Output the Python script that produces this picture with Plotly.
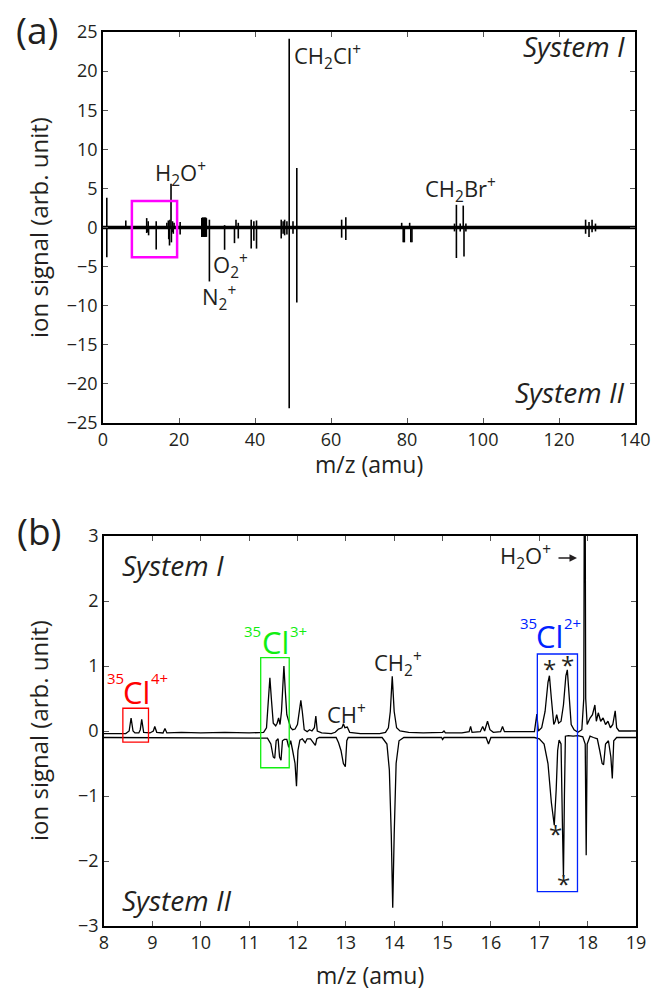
import plotly.graph_objects as go

FONT = "Open Sans"
TXT = "#231f20"

# ---------------- Panel (a): full mass spectra (stick representation) ----------------
a_mz_range = [0, 140]
a_sys1_mz = [1.0, 6.0, 11.5, 11.9, 14.0, 16.8, 17.2, 17.6, 17.9, 18.3, 18.7, 20.3,
             26.0, 26.2, 26.4, 26.6, 26.8, 27.0, 27.2, 28.0, 32.0, 35.0, 35.6,
             39.0, 39.7, 40.4, 46.9, 47.4, 47.8, 48.4, 49.0, 50.0, 51.0, 62.8, 63.9,
             78.6, 80.7, 92.5, 93.0, 94.0, 94.8, 95.5, 127.0, 127.9, 128.7, 129.6]
a_sys1_sig = [3.8, 0.9, 1.2, 0.8, 0.8, 0.6, 0.9, 1.0, 5.6, 0.8, 0.6, 0.7,
              1.2, 1.3, 1.2, 1.3, 1.2, 1.3, 1.2, 1.0, 0.3, 1.0, 0.6,
              1.0, 0.8, 0.9, 1.0, 0.8, 1.0, 0.8, 24.15, 0.8, 7.6, 1.0, 1.3,
              0.6, 0.6, 0.5, 2.9, 0.5, 2.8, 0.5, 1.0, 0.7, 1.0, 0.5]
a_sys2_mz = [1.0, 11.5, 11.65, 12.0, 14.0, 17.3, 17.5, 18.0, 18.3, 18.5, 20.3,
             26.0, 26.2, 26.4, 26.6, 26.8, 27.0, 27.2, 28.0, 32.0, 34.6, 35.6,
             39.0, 39.7, 40.4, 46.9, 47.4, 47.8, 48.4, 49.0, 50.0, 51.0, 62.8, 63.9,
             79.0, 79.3, 81.0, 81.3, 92.5, 93.0, 94.0, 95.0, 95.5, 127.0, 127.9, 128.7, 129.6]
a_sys2_sig = [3.8, 0.7, 0.6, 1.0, 2.8, 1.5, 2.3, 1.9, 0.6, 0.8, 0.9,
              1.2, 1.2, 1.2, 1.2, 1.2, 1.2, 1.2, 6.9, 2.85, 2.0, 1.4,
              2.7, 1.7, 2.7, 1.4, 0.8, 1.0, 0.9, 23.1, 0.8, 9.6, 1.3, 1.6,
              1.9, 1.9, 1.9, 1.9, 0.5, 3.9, 0.5, 3.7, 0.5, 0.8, 1.2, 0.6, 0.5]
a_zoom_box = [7.6, 19.5, -3.8, 3.4]   # x0, x1, y0, y1 (region shown in panel b)

# ---------------- Panel (b): zoomed spectra ----------------
b_sys1_mz = [8.0, 8.45, 8.52, 8.56, 8.60, 8.64, 8.72, 8.75, 8.78, 8.82, 8.95, 9.02, 9.05, 9.09,
             9.22, 9.26, 9.30, 9.6, 10.0, 10.5, 11.0, 11.3, 11.36, 11.40, 11.43, 11.46, 11.50,
             11.55, 11.58, 11.61, 11.64, 11.67, 11.70, 11.72, 11.75, 11.78, 11.82, 11.86, 11.90,
             11.95, 12.0, 12.04, 12.07, 12.10, 12.14, 12.20, 12.25, 12.30, 12.35, 12.38, 12.41,
             12.5, 12.7, 12.78, 12.85, 12.92, 12.95, 12.98, 13.03, 13.08, 13.3, 13.7, 13.82,
             13.88, 13.92, 13.96, 14.00, 14.05, 14.12, 14.3, 14.6, 15.0, 15.03, 15.06, 15.4,
             15.55, 15.58, 15.61, 15.78, 15.83, 15.87, 15.93, 15.98, 16.05, 16.2, 16.24, 16.28,
             16.6, 16.9, 16.95, 16.98, 17.05, 17.12, 17.18, 17.21, 17.25, 17.30, 17.33, 17.36,
             17.40, 17.45, 17.50, 17.55, 17.58, 17.62, 17.66, 17.72, 17.80, 17.88, 17.92, 17.93,
             17.95, 17.96, 17.99, 18.05, 18.10, 18.15, 18.18, 18.22, 18.27, 18.32, 18.37, 18.42,
             18.47, 18.52, 18.57, 18.60, 18.65, 19.0]
b_sys1_sig = [-0.04, -0.04, 0.0, 0.20, 0.0, -0.03, -0.03, 0.02, 0.18, -0.02, -0.03, 0.0, 0.07, -0.02,
              -0.03, 0.04, -0.03, -0.02, -0.03, -0.02, -0.03, -0.02, 0.05, 0.5, 0.82, 0.5, 0.12,
              0.08, 0.12, 0.2, 0.1, 0.3, 0.85, 1.0, 0.6, 0.25, 0.15, 0.05, 0.02,
              0.03, 0.1, 0.35, 0.47, 0.3, 0.02, -0.01, 0.02, 0.0, 0.05, 0.23, 0.0,
              -0.03, -0.04, -0.02, 0.03, 0.05, 0.11, 0.05, 0.06, -0.02, -0.04, -0.04, -0.02,
              0.05, 0.3, 0.84, 0.3, 0.05, 0.0, -0.02, -0.03, -0.02, 0.0, -0.03, -0.03,
              -0.01, 0.07, -0.02, -0.01, 0.07, 0.0, 0.15, 0.02, -0.02, -0.01, 0.07, -0.01,
              -0.01, -0.01, 0.26, 0.0, 0.05, 0.3, 0.75, 0.85, 0.5, 0.1, 0.15, 0.25,
              0.12, 0.15, 0.4, 0.85, 0.94, 0.5, 0.1, 0.02, -0.02, 0.02, 0.5, 3.3,
              3.3, 0.5, 0.1, 0.2, 0.25, 0.4, 0.15, 0.28, 0.15, 0.2, 0.1, 0.15,
              0.05, 0.1, 0.31, 0.05, 0.0, 0.0]
b_sys2_mz = [8.0, 11.3, 11.38, 11.45, 11.50, 11.53, 11.56, 11.60, 11.63, 11.66, 11.69, 11.73,
             11.78, 11.82, 11.86, 11.90, 11.95, 11.98, 12.01, 12.05, 12.10, 12.16, 12.20, 12.27,
             12.33, 12.37, 12.40, 12.45, 12.8, 12.85, 12.9, 12.95, 12.99, 13.02, 13.05, 13.75,
             13.85, 13.90, 13.94, 13.97, 14.00, 14.04, 14.10, 14.2, 14.98, 15.0, 15.03, 15.9,
             15.95, 16.0, 16.9, 17.0, 17.1, 17.18, 17.25, 17.31, 17.35, 17.38, 17.41, 17.45,
             17.48, 17.50, 17.52, 17.54, 17.6, 17.7, 17.8, 17.9, 17.95, 17.97, 17.99, 18.05,
             18.12, 18.2, 18.25, 18.3, 18.33, 18.37, 18.43, 18.48, 18.51, 18.54, 18.6, 19.0]
b_sys2_sig = [-0.1, -0.1, -0.11, -0.2, -0.4, -0.42, -0.15, -0.12, -0.4, -0.45, -0.15, -0.13,
              -0.13, -0.25, -0.15, -0.3, -0.5, -0.85, -0.3, -0.14, -0.12, -0.18, -0.12, -0.12,
              -0.18, -0.22, -0.12, -0.1, -0.1, -0.18, -0.3, -0.5, -0.55, -0.15, -0.1, -0.1,
              -0.2, -0.6, -1.6, -2.72, -1.6, -0.5, -0.15, -0.1, -0.1, -0.13, -0.1, -0.1,
              -0.2, -0.1, -0.1, -0.12, -0.2, -0.5, -1.1, -1.45, -0.9, -0.3, -0.14, -0.2,
              -1.5, -2.24, -1.0, -0.08, -0.07, -0.08, -0.07, -0.09, -0.2, -1.91, -0.2, -0.08,
              -0.1, -0.12, -0.3, -0.5, -0.52, -0.2, -0.15, -0.4, -0.73, -0.15, -0.1, -0.1]
b_boxes = {  # x0, x1, y0, y1, colour
    "Cl4": [8.39, 8.92, -0.17, 0.35, "#ff0000"],
    "Cl3": [11.24, 11.83, -0.565, 1.13, "#11ee11"],
    "Cl2": [16.96, 17.79, -2.47, 1.185, "#0022ff"],
}
b_star_mz = [17.21, 17.58, 17.33, 17.50]
b_star_sig = [0.96, 1.03, -1.58, -2.34]


def sticks(mz, sig, sign):
    xs, ys = [], []
    for m, s in zip(mz, sig):
        xs += [m, m, None]
        ys += [0, sign * s, None]
    return xs, ys


fig = go.Figure()
x1s, y1s = sticks(a_sys1_mz, a_sys1_sig, 1)
x2s, y2s = sticks(a_sys2_mz, a_sys2_sig, -1)
fig.add_trace(go.Scatter(x=a_mz_range, y=[0, 0], mode="lines",
                         line=dict(color="black", width=3.5), xaxis="x", yaxis="y"))
fig.add_trace(go.Scatter(x=x1s, y=y1s, mode="lines", line=dict(color="black", width=1.6),
                         xaxis="x", yaxis="y", name="System I"))
fig.add_trace(go.Scatter(x=x2s, y=y2s, mode="lines", line=dict(color="black", width=1.6),
                         xaxis="x", yaxis="y", name="System II"))

fig.add_trace(go.Scatter(x=b_sys1_mz, y=b_sys1_sig, mode="lines",
                         line=dict(color="black", width=1.3), xaxis="x2", yaxis="y2",
                         name="System I"))
fig.add_trace(go.Scatter(x=b_sys2_mz, y=b_sys2_sig, mode="lines",
                         line=dict(color="black", width=1.3), xaxis="x2", yaxis="y2",
                         name="System II"))

shapes = [dict(type="rect", xref="x", yref="y", x0=a_zoom_box[0], x1=a_zoom_box[1],
               y0=a_zoom_box[2], y1=a_zoom_box[3], line=dict(color="#ff00ff", width=2.5))]
for k, (x0, x1, y0, y1, c) in b_boxes.items():
    shapes.append(dict(type="rect", xref="x2", yref="y2", x0=x0, x1=x1, y0=y0, y1=y1,
                       line=dict(color=c, width=1.3)))

ann = []


def A(text, x, y, xref="x", yref="y", size=22, color=TXT, xanchor="center",
      yanchor="middle", italic=False, angle=0):
    ann.append(dict(text=text, x=x, y=y, xref=xref, yref=yref, showarrow=False,
                    xanchor=xanchor, yanchor=yanchor, textangle=angle,
                    font=dict(family=FONT, size=size, color=color,
                              style="italic" if italic else "normal")))


# panel (a) labels
A("CH<sub>2</sub>Cl<sup>+</sup>", 49.7, 21.9, xanchor="left")
A("H<sub>2</sub>O<sup>+</sup>", 20.5, 6.9)
A("O<sub>2</sub><sup>+</sup>", 33.5, -4.8)
A("N<sub>2</sub><sup>+</sup>", 30.5, -9.0)
A("CH<sub>2</sub>Br<sup>+</sup>", 94.2, 4.8)
A("System I", 627 / 656, 1 - 46 / 990, "paper", "paper", size=28, xanchor="right", italic=True)
A("System II", 627 / 656, 1 - 392 / 990, "paper", "paper", size=28, xanchor="right", italic=True)

# panel (b) labels
A("System I", 120 / 656, 1 - 565 / 990, "paper", "paper", size=28, xanchor="left", italic=True)
A("System II", 120 / 656, 1 - 900 / 990, "paper", "paper", size=28, xanchor="left", italic=True)
A("CH<sup>+</sup>", 13.02, 0.27, "x2", "y2")
A("CH<sub>2</sub><sup>+</sup>", 14.07, 1.04, "x2", "y2")
A("H<sub>2</sub>O<sup>+</sup>", 16.72, 2.69, "x2", "y2")
ann.append(dict(x=17.78, y=2.66, xref="x2", yref="y2", ax=-20, ay=0, text="",
                showarrow=True, arrowhead=2, arrowsize=1, arrowwidth=1.5, arrowcolor=TXT))
for m, s in zip(b_star_mz, b_star_sig):
    A("*", m, s, "x2", "y2", size=24)

# isotope labels: key, charge, x of "35", x of "Cl", x of charge, y of superscripts, y of "Cl"
iso = [("Cl4", "4+", 8.23, 8.67, 9.14, 0.815, 0.60),
       ("Cl3", "3+", 11.08, 11.536, 12.02, 1.546, 1.37),
       ("Cl2", "2+", 16.77, 17.21, 17.68, 1.654, 1.46)]
for key, ch, xs_, xc, xe, ysup, ycl in iso:
    col = b_boxes[key][4]
    A("35", xs_, ysup, "x2", "y2", size=15, color=col)
    A("Cl", xc, ycl, "x2", "y2", size=31, color=col)
    A(ch, xe, ysup, "x2", "y2", size=15, color=col)

# panel letters and axis titles
A("(a)", 37 / 656, 1 - 30 / 990, "paper", "paper", size=37)
A("(b)", 39 / 656, 1 - 530 / 990, "paper", "paper", size=37)
A("ion signal (arb. unit)", 38 / 656, 1 - 228 / 990, "paper", "paper", size=24, angle=-90)
A("ion signal (arb. unit)", 38 / 656, 1 - 731 / 990, "paper", "paper", size=24, angle=-90)
A("m/z (amu)", 369 / 656, 1 - 464 / 990, "paper", "paper", size=23)
A("m/z (amu)", 370 / 656, 1 - 975 / 990, "paper", "paper", size=23)

axis_common = dict(showline=True, linecolor="black", linewidth=1.5, mirror="ticks",
                   ticks="inside", ticklen=5, tickcolor="#555", tickwidth=1,
                   showgrid=False, zeroline=False, automargin=False,
                   tickfont=dict(family=FONT, size=18, color=TXT))

fig.update_layout(
    width=656, height=990, margin=dict(l=0, r=0, t=0, b=0, pad=0), autosize=False,
    paper_bgcolor="white", plot_bgcolor="white", showlegend=False,
    font=dict(family=FONT, color=TXT),
    xaxis=dict(domain=[103 / 656, 635 / 656], range=[0, 140], tickvals=[0, 20, 40, 60, 80, 100, 120, 140],
               anchor="y", **axis_common),
    yaxis=dict(domain=[1 - 423 / 990, 1 - 32 / 990], range=[-25, 25],
               tickvals=[-25, -20, -15, -10, -5, 0, 5, 10, 15, 20, 25], anchor="x", **axis_common),
    xaxis2=dict(domain=[104 / 656, 636 / 656], range=[8, 19], tickvals=list(range(8, 20)),
                anchor="y2", **axis_common),
    yaxis2=dict(domain=[1 - 926 / 990, 1 - 536 / 990], range=[-3, 3],
                tickvals=[-3, -2, -1, 0, 1, 2, 3], anchor="x2", **axis_common),
    shapes=shapes, annotations=ann,
)

fig.write_html(
    "out.html",
    config={"displayModeBar": False, "responsive": False},
    post_script=("document.documentElement.style.margin='0';"
                 "document.documentElement.style.padding='0';"
                 "document.documentElement.style.overflow='hidden';"
                 "document.body.style.margin='0';document.body.style.padding='0';"
                 "document.body.style.overflow='hidden';"),
)
